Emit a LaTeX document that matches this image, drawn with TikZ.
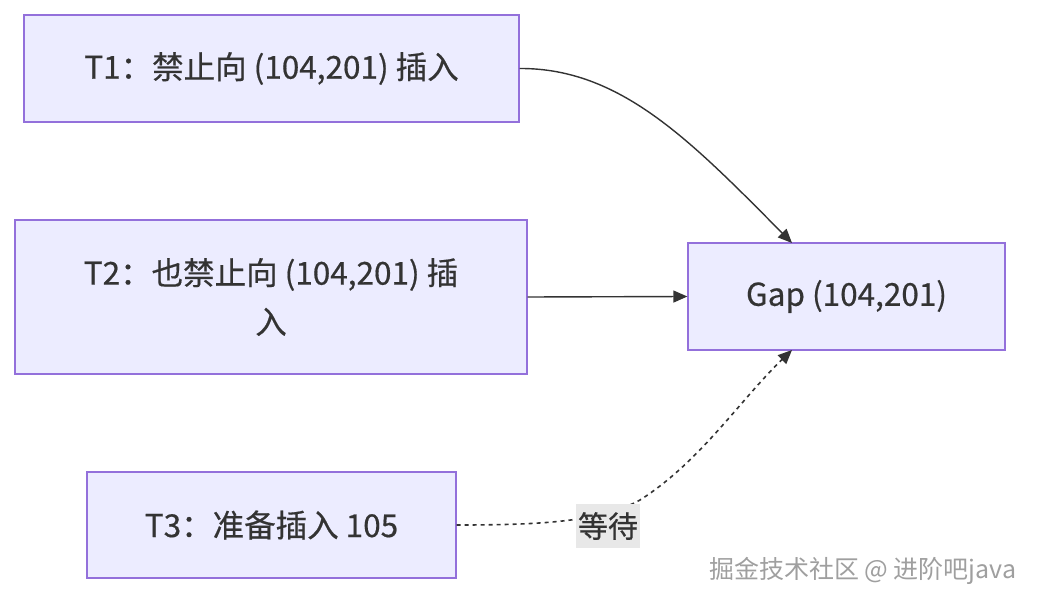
\documentclass[tikz,border=0pt]{standalone}
\usepackage{fontspec}
\setmainfont{Noto Sans CJK SC}[FakeBold=0.5]
\newfontfamily\wmfont{Noto Sans CJK SC}
\usetikzlibrary{arrows.meta}
\definecolor{boxfill}{HTML}{ECECFF}
\definecolor{boxline}{HTML}{9370DB}
\definecolor{ink}{HTML}{333333}
\definecolor{lblbg}{HTML}{E8E8E8}
\tikzset{
  box/.style={draw=boxline, fill=boxfill, line width=1.3pt, text=ink, font=\fontsize{31.5}{49}\selectfont, align=center, inner sep=0pt},
  edge/.style={draw=ink, line width=1.4pt, -{Triangle[length=14pt,width=12pt]}},
  lbl/.style={fill=lblbg, text=ink, font=\fontsize{30}{34}\selectfont, inner sep=1pt}
}
\begin{document}
\begin{tikzpicture}[x=1pt,y=-1pt]
\useasboundingbox (0,0) rectangle (1038,604);
\node[box, minimum width=495pt, minimum height=107pt] (t1) at (271.5,68.5) {T1：禁止向 (104,201) 插入};
\node[box, minimum width=512pt, minimum height=154pt] (t2) at (271,297) {T2：也禁止向 (104,201) 插\\入};
\node[box, minimum width=369pt, minimum height=106pt] (t3) at (271.5,525) {T3：准备插入 105};
\node[box, minimum width=317pt, minimum height=107pt] (gap) at (846.5,296.5) {Gap (104,201)};
\coordinate (g1) at (792,243);
\coordinate (g3) at (792,350);
\coordinate (mid) at (640,500);
\draw[edge] (t1.east) .. controls (620,68) and (690,140) .. (g1);
\draw[edge] (t2.east) -- (gap.west);
\draw[edge, line width=1.6pt, dash pattern=on 4pt off 4pt] (t3.east) .. controls (540,525) and (600,522) .. (mid) .. controls (700,462) and (740,400) .. (g3);
\node[lbl, minimum width=64pt, minimum height=44pt] (w) at (608,526) {等待};
\node[text=gray!75, font=\wmfont\fontsize{25}{28}\selectfont, anchor=east] (wm) at (1020,571) {掘金技术社区 @ 进阶吧java};
\end{tikzpicture}
\end{document}
